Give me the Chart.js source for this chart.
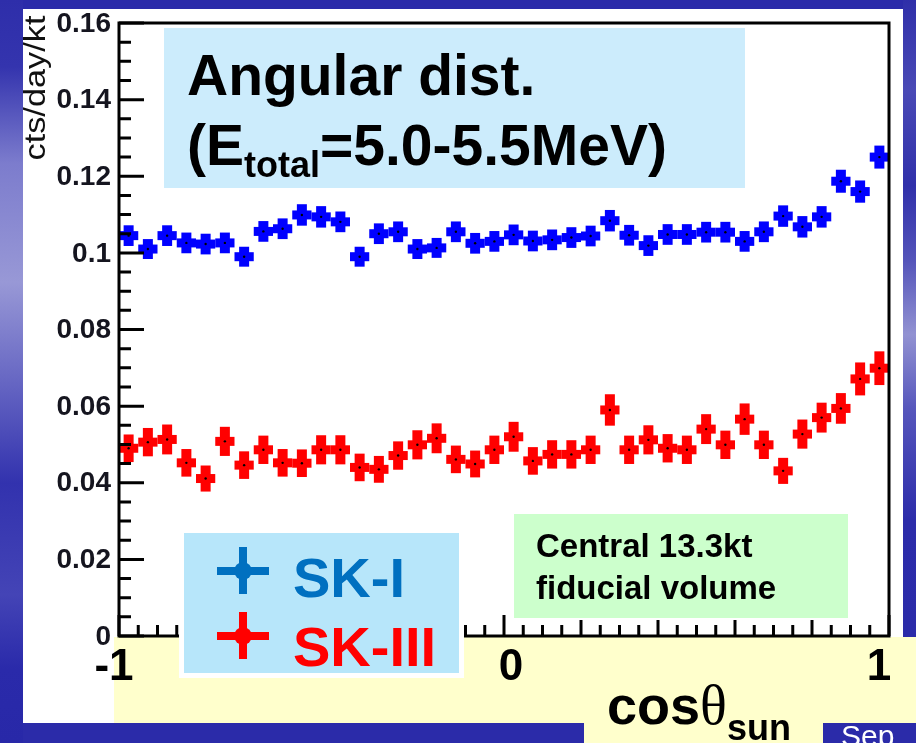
<!DOCTYPE html>
<html>
<head>
<meta charset="utf-8">
<script src="https://cdn.jsdelivr.net/npm/chart.js@4.4.1/dist/chart.umd.min.js"></script>
<style>
  html, body { margin: 0; padding: 0; }
  body {
    width: 916px; height: 743px; position: relative; overflow: hidden;
    background: #2b2ba9;
    font-family: "Liberation Sans", Arial, sans-serif;
  }
  .layer { position: absolute; left: 0; top: 0; width: 916px; height: 743px; }
</style>
</head>
<body>

<!-- slide background: blue frame, white page, yellow axis band -->
<svg class="layer" width="916" height="743">
  <defs>
    <linearGradient id="leftStrip" x1="0" y1="0" x2="0" y2="1">
      <stop offset="0" stop-color="#2e2eaa"/>
      <stop offset="0.09" stop-color="#3434ae"/>
      <stop offset="0.22" stop-color="#7c7ccd"/>
      <stop offset="0.38" stop-color="#9898d6"/>
      <stop offset="0.52" stop-color="#6464c2"/>
      <stop offset="0.65" stop-color="#3232ae"/>
      <stop offset="0.8" stop-color="#4444b6"/>
      <stop offset="0.9" stop-color="#2a2aaa"/>
      <stop offset="1" stop-color="#2828a8"/>
    </linearGradient>
    <linearGradient id="rightStrip" x1="0" y1="0" x2="0" y2="1">
      <stop offset="0" stop-color="#2f2fa9"/>
      <stop offset="0.12" stop-color="#4a4ab6"/>
      <stop offset="0.25" stop-color="#3030aa"/>
      <stop offset="0.35" stop-color="#5454ba"/>
      <stop offset="0.45" stop-color="#9292d2"/>
      <stop offset="0.55" stop-color="#5656bc"/>
      <stop offset="0.7" stop-color="#2c2caa"/>
      <stop offset="1" stop-color="#2a2aa8"/>
    </linearGradient>
  </defs>
  <rect x="0" y="0" width="23" height="743" fill="url(#leftStrip)"/>
  <rect x="903" y="0" width="13" height="743" fill="url(#rightStrip)"/>
  <rect x="23" y="9" width="880" height="714" fill="#ffffff"/>
  <rect x="114" y="637" width="802" height="86" fill="#ffffcc"/>
  <rect x="584" y="723" width="239" height="20" fill="#ffffcc"/>
</svg>

<div class="layer"><canvas id="angDist"></canvas></div>

<!-- slide annotations on top of the plot -->
<svg class="layer" width="916" height="743" font-family="Liberation Sans, Arial, sans-serif">
  <rect x="164" y="28" width="581" height="160" fill="#ccecfc"/>
  <text x="187" y="95" font-size="57" font-weight="bold" fill="#000">Angular dist.</text>
  <text x="187" y="165" font-size="57" font-weight="bold" fill="#000">(E<tspan font-size="36" dy="12">total</tspan><tspan dy="-12">=5.0-5.5MeV)</tspan></text>

  <rect x="514" y="514" width="334" height="104" fill="#ccffcc"/>
  <text x="536" y="557" font-size="33" font-weight="bold" fill="#000">Central 13.3kt</text>
  <text x="536" y="599" font-size="33" font-weight="bold" fill="#000">fiducial volume</text>

  <rect x="179" y="528" width="285" height="150" fill="#ffffff"/>
  <rect x="184" y="533" width="275" height="140" fill="#b7e6fa"/>
  <rect x="217" y="567" width="52" height="8" fill="#0070c0"/>
  <rect x="239" y="547" width="8" height="47" fill="#0070c0"/>
  <circle cx="243" cy="571" r="9" fill="#0070c0"/>
  <text x="293" y="597" font-size="56" font-weight="bold" fill="#0070c0">SK-I</text>
  <rect x="217" y="632" width="52" height="8" fill="#ff0000"/>
  <rect x="239" y="612" width="8" height="47" fill="#ff0000"/>
  <circle cx="243" cy="636" r="9" fill="#ff0000"/>
  <text x="293" y="666" font-size="56" font-weight="bold" fill="#ff0000">SK-III</text>

  <text x="607" y="724" font-size="54" font-weight="bold" fill="#000">cos<tspan font-family="Liberation Serif, serif" font-weight="normal" font-size="56">θ</tspan><tspan font-size="36" dy="16">sun</tspan></text>

  <rect x="823" y="723" width="93" height="20" fill="#2b2ba9"/>
  <text x="841" y="746" font-size="30" fill="#ffffff">Sep</text>
</svg>

<script>
// cos(theta_sun) bin centres, 40 bins of width 0.05
const cosBins = [
  -0.975, -0.925, -0.875, -0.825, -0.775, -0.725, -0.675, -0.625, -0.575, -0.525,
  -0.475, -0.425, -0.375, -0.325, -0.275, -0.225, -0.175, -0.125, -0.075, -0.025,
   0.025,  0.075,  0.125,  0.175,  0.225,  0.275,  0.325,  0.375,  0.425,  0.475,
   0.525,  0.575,  0.625,  0.675,  0.725,  0.775,  0.825,  0.875,  0.925,  0.975
];
const binHalfWidth = 0.025;

// event rates, cts/day/kt
const skIRate = [
  0.1045, 0.1010, 0.1045, 0.1026, 0.1023, 0.1026, 0.0990, 0.1056, 0.1063, 0.1099,
  0.1094, 0.1081, 0.0990, 0.1050, 0.1055, 0.1010, 0.1013, 0.1055, 0.1025, 0.1030,
  0.1047, 0.1031, 0.1034, 0.1040, 0.1044, 0.1084, 0.1046, 0.1019, 0.1048, 0.1048,
  0.1054, 0.1054, 0.1030, 0.1055, 0.1096, 0.1068, 0.1094, 0.1187, 0.1160, 0.1250
];
const skIErr = [
  0.0027, 0.0026, 0.0027, 0.0027, 0.0027, 0.0027, 0.0026, 0.0027, 0.0027, 0.0028,
  0.0028, 0.0027, 0.0026, 0.0027, 0.0027, 0.0026, 0.0026, 0.0027, 0.0027, 0.0027,
  0.0027, 0.0027, 0.0027, 0.0027, 0.0027, 0.0028, 0.0027, 0.0027, 0.0027, 0.0027,
  0.0027, 0.0027, 0.0027, 0.0027, 0.0028, 0.0028, 0.0028, 0.0030, 0.0029, 0.0030
];
const skIIIRate = [
  0.0490, 0.0506, 0.0513, 0.0452, 0.0411, 0.0508, 0.0446, 0.0486, 0.0452, 0.0451,
  0.0486, 0.0486, 0.0440, 0.0435, 0.0471, 0.0499, 0.0516, 0.0461, 0.0449, 0.0486,
  0.0520, 0.0457, 0.0474, 0.0474, 0.0486, 0.0590, 0.0486, 0.0512, 0.0490, 0.0486,
  0.0540, 0.0499, 0.0566, 0.0499, 0.0431, 0.0527, 0.0570, 0.0594, 0.0671, 0.0699
];
const skIIIErr = [
  0.0036, 0.0037, 0.0039, 0.0036, 0.0034, 0.0038, 0.0036, 0.0037, 0.0036, 0.0036,
  0.0038, 0.0038, 0.0036, 0.0035, 0.0037, 0.0038, 0.0039, 0.0036, 0.0035, 0.0037,
  0.0039, 0.0036, 0.0037, 0.0037, 0.0037, 0.0041, 0.0037, 0.0038, 0.0037, 0.0037,
  0.0039, 0.0037, 0.0041, 0.0037, 0.0034, 0.0038, 0.0039, 0.0040, 0.0043, 0.0044
];

const yTickValues = [0, 0.02, 0.04, 0.06, 0.08, 0.1, 0.12, 0.14, 0.16];
const yTickLabels = ['0', '0.02', '0.04', '0.06', '0.08', '0.1', '0.12', '0.14', '0.16'];
const xTickValues = [-1, 0, 1];
const xTickLabels = ['-1', '0', '1'];
const xTickShift = [-5, 7, -10];
const yTitle = 'cts/day/kt';

// ROOT-style frame: ticks inside the box, error crosses per bin
const rootFrame = {
  id: 'rootFrame',

  beforeDatasetsDraw(chart) {
    const { ctx, scales: { x, y } } = chart;
    ctx.save();
    chart.data.datasets.forEach(ds => {
      ctx.fillStyle = ds.crossColor;
      ds.data.forEach((p, i) => {
        const cx = x.getPixelForValue(p.x);
        const cy = y.getPixelForValue(p.y);
        const x0 = x.getPixelForValue(p.x - binHalfWidth);
        const x1 = x.getPixelForValue(p.x + binHalfWidth);
        const yTop = y.getPixelForValue(p.y + ds.errors[i]);
        const yBot = y.getPixelForValue(p.y - ds.errors[i]);
        ctx.fillRect(x0, cy - 4.5, x1 - x0, 9);
        ctx.fillRect(cx - 5, yTop, 10, yBot - yTop);
      });
    });
    ctx.restore();
  },

  afterDraw(chart) {
    const { ctx, chartArea: a, scales: { x, y } } = chart;
    ctx.save();
    ctx.strokeStyle = '#000';
    ctx.lineWidth = 3;
    ctx.strokeRect(a.left, a.top, a.right - a.left, a.bottom - a.top);

    ctx.beginPath();
    // y ticks: major every 0.02, minor every 0.005
    for (let k = 0; k <= 32; k++) {
      const py = y.getPixelForValue(k * 0.005);
      const len = k % 4 === 0 ? 25 : 12;
      ctx.moveTo(a.left, py);
      ctx.lineTo(a.left + len, py);
    }
    // x ticks: major at -1/0/1, secondary every 0.2, minor every 0.05
    for (let k = 0; k <= 40; k++) {
      const px = x.getPixelForValue(-1 + k * 0.05);
      const len = k % 20 === 0 ? 21 : (k % 4 === 0 ? 16 : 11);
      ctx.moveTo(px, a.bottom);
      ctx.lineTo(px, a.bottom - len);
    }
    ctx.stroke();

    ctx.fillStyle = '#15151f';
    ctx.font = 'bold 28px "Liberation Sans", Arial, sans-serif';
    ctx.textAlign = 'right';
    ctx.textBaseline = 'middle';
    yTickValues.forEach((v, i) => {
      ctx.fillText(yTickLabels[i], a.left - 8, y.getPixelForValue(v) + 1);
    });

    ctx.fillStyle = '#000';
    ctx.font = 'bold 44px "Liberation Sans", Arial, sans-serif';
    ctx.textAlign = 'center';
    ctx.textBaseline = 'alphabetic';
    xTickValues.forEach((v, i) => {
      ctx.fillText(xTickLabels[i], x.getPixelForValue(v) + xTickShift[i], 680);
    });

    // rotated axis title, stretched like the original plot
    ctx.fillStyle = '#111';
    ctx.font = '30px "Liberation Sans", Arial, sans-serif';
    ctx.translate(37, 88);
    ctx.rotate(-Math.PI / 2);
    const w = ctx.measureText(yTitle).width;
    ctx.scale(145 / w, 1);
    ctx.textAlign = 'center';
    ctx.textBaseline = 'middle';
    ctx.fillText(yTitle, 0, 0);
    ctx.restore();
  }
};

const canvas = document.getElementById('angDist');
canvas.width = 916;
canvas.height = 743;

new Chart(canvas, {
  type: 'scatter',
  data: {
    datasets: [
      {
        label: 'SK-I',
        data: cosBins.map((c, i) => ({ x: c, y: skIRate[i] })),
        errors: skIErr,
        crossColor: '#0000ff',
        pointRadius: 1.2,
        pointBorderWidth: 0,
        pointBackgroundColor: '#000'
      },
      {
        label: 'SK-III',
        data: cosBins.map((c, i) => ({ x: c, y: skIIIRate[i] })),
        errors: skIIIErr,
        crossColor: '#ff0000',
        pointRadius: 1.2,
        pointBorderWidth: 0,
        pointBackgroundColor: '#000'
      }
    ]
  },
  options: {
    responsive: false,
    animation: false,
    layout: { padding: { left: 119, right: 27, top: 23, bottom: 107 } },
    plugins: {
      legend: { display: false },
      tooltip: { enabled: false }
    },
    scales: {
      x: { type: 'linear', min: -1, max: 1, display: false },
      y: { type: 'linear', min: 0, max: 0.16, display: false }
    }
  },
  plugins: [rootFrame]
});
</script>
</body>
</html>
